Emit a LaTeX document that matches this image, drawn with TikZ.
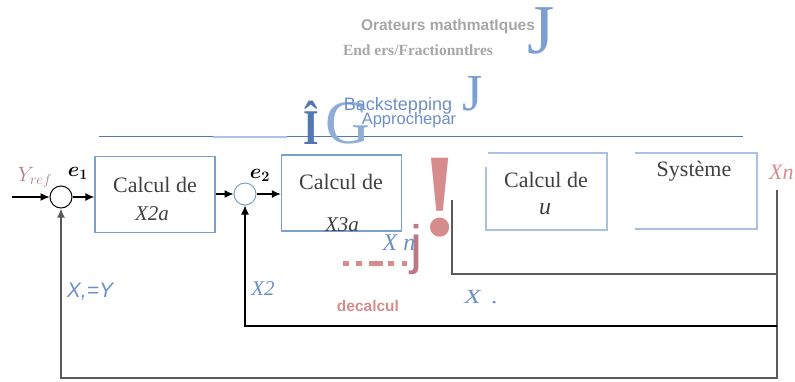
\documentclass[tikz,border=0pt]{standalone}
\usepackage{fontspec}
\setmainfont{Liberation Serif}
\setsansfont{Liberation Sans}
\setmonofont{Liberation Mono}
\usepackage{bm}
\usetikzlibrary{arrows.meta}
\definecolor{boxblue}{HTML}{7B9FD0}
\definecolor{paleblue}{HTML}{A9C1E3}
\definecolor{lblblue}{HTML}{6D8FC8}
\definecolor{deepblue}{HTML}{5278B0}
\definecolor{rosered}{HTML}{D68C8C}
\definecolor{mauve}{HTML}{B97A85}
\definecolor{inkgray}{HTML}{404040}
\definecolor{wiregray}{HTML}{5A5A5A}
\definecolor{titlegray}{HTML}{A6A6A6}
\tikzset{
  block/.style={draw=boxblue,line width=1.3pt,minimum width=120pt,minimum height=76pt,inner sep=0pt},
  paleblock/.style={minimum width=121pt,minimum height=77pt,inner sep=0pt},
  sumpt/.style={circle,draw,line width=1pt,minimum size=22pt,inner sep=0pt},
  blocktext/.style={inner sep=0pt,text=inkgray,font=\fontsize{22}{24}\selectfont},
  wire/.style={line width=1.2pt},
  thickwire/.style={line width=2.2pt,draw=wiregray},
}
\begin{document}
\begin{tikzpicture}[x=1pt,y=-1pt,>={Latex[length=9pt,width=8pt]}]
\useasboundingbox (0,0) rectangle (795,381);
% titre
\node[inner sep=0pt,text=titlegray,font=\sffamily\bfseries\fontsize{15.5}{16}\selectfont] (tit1) at (448,26) {Orateurs mathmatIques};
\node[inner sep=0pt,text=titlegray,font=\bfseries\fontsize{15.5}{16}\selectfont] (tit2) at (418,50) {End ers/Fractionntlres};
\node[inner sep=0pt,text=boxblue,font=\fontsize{70}{70}\selectfont] (bigj1) at (541,31) {J};
\node[inner sep=0pt,text=boxblue,font=\fontsize{52}{52}\selectfont] (bigj2) at (473,94) {J};
\draw[deepblue,line width=0.9pt] (99,136) -- (743,136);
\draw[paleblue,line width=2pt] (213,137) -- (287,137);
\node[inner sep=0pt,text=deepblue,font=\bfseries\fontsize{50}{50}\selectfont,xscale=0.8] (bigi) at (311,123) {Î};
\node[inner sep=0pt,text=boxblue!85,font=\fontsize{62}{62}\selectfont] (bigg) at (348,123) {G};
\node[inner sep=0pt,text=lblblue,font=\sffamily\fontsize{18}{18}\selectfont] (back) at (398,106) {Backstepping};
\node[inner sep=0pt,text=lblblue,font=\sffamily\fontsize{16.5}{17}\selectfont] (appro) at (409,120) {Approchepar};
% blocs
\node[block] (box1) at (155,194.5) {};
\node[blocktext] (t1a) at (155,185) {Calcul de};
\node[blocktext,font=\itshape\fontsize{21}{24}\selectfont] (t1b) at (152,214) {X2a};
\node[block] (box2) at (341.5,193) {};
\node[blocktext] (t2a) at (341,182) {Calcul de};
\node[blocktext,font=\itshape\fontsize{21}{24}\selectfont] (t2b) at (342,225) {X3a};
\node[paleblock] (box3) at (546.5,191.5) {};
\draw[paleblue,line width=2.4pt] (box3.north west) ++(2,0) -- (box3.north east) -- (box3.south east) -- (box3.south west) -- ++(0,-63);
\node[blocktext] (t3a) at (546,180) {Calcul de};
\node[blocktext,font=\itshape\fontsize{24}{24}\selectfont] (t3b) at (545,209) {u};
\node[paleblock,minimum width=122pt,minimum height=76pt] (box4) at (696,191) {};
\draw[paleblue,line width=2pt] (box4.north west) -- (box4.north east) -- (box4.south east) -- (box4.south west);
\node[blocktext] (t4) at (694,171) {Système};
% sommateurs
\node[sumpt] (sum1) at (61,197) {};
\node[sumpt,draw=boxblue] (sum2) at (245,194) {};
\node[inner sep=0pt,text=mauve,font=\fontsize{21}{21}\selectfont] (yref) at (35,177) {$Y_{ref}$};
\node[inner sep=0pt,font=\fontsize{20}{20}\selectfont] (e1) at (78,173) {$\bm{e_1}$};
\node[inner sep=0pt,font=\fontsize{20}{20}\selectfont] (e2) at (260,175) {$\bm{e_2}$};
\coordinate (in) at (12,197);
\draw[wire,->] (in) -- (sum1);
\draw[wire,->] (sum1.east) -- (sum1.east -| box1.west);
\draw[wire,->] (box1.east |- sum2) -- (sum2);
\draw[wire,->] (sum2.east) -- (sum2.east -| box2.west);
% retours
\coordinate (rtop) at (777,190);
\coordinate (r1) at (777,378);
\coordinate (r2) at (777,326);
\coordinate (r3) at (777,274);
\coordinate (cut) at (452,200);
\draw[thickwire,->] (rtop) -- (r1) -| (sum1.south);
\draw[wire,->] (r2) -| (sum2.south);
\draw[thickwire,line width=2.5pt] (r3) -| (cut);
\node[inner sep=0pt,text=rosered,font=\itshape\fontsize{22}{22}\selectfont,anchor=west] (xn) at (769,172) {Xn};
% marques
\node[inner sep=0pt,text=rosered,font=\bfseries\fontsize{118}{118}\selectfont,anchor=base] (excl) at (440,235) {!};
\node[inner sep=0pt,text=lblblue,font=\itshape\fontsize{24}{24}\selectfont] (xnq) at (399,243) {X n};
\draw[rosered,line width=5pt,dash pattern=on 6pt off 7pt on 6pt off 7pt on 14pt off 5pt on 6pt off 8pt on 6pt] (343,263) -- (407,263);
\node[inner sep=0pt,text=mauve,font=\sffamily\fontsize{54}{54}\selectfont] (jj) at (416,250) {j};
\node[inner sep=0pt,text=rosered,font=\sffamily\bfseries\fontsize{15.5}{16}\selectfont] (decal) at (368,306) {decalcul};
\node[inner sep=0pt,text=lblblue,font=\sffamily\itshape\fontsize{21}{22}\selectfont] (xy) at (90,292) {X,=Y};
\node[inner sep=0pt,text=lblblue,font=\itshape\fontsize{21}{22}\selectfont] (x2) at (263,289) {X2};
\node[inner sep=0pt,text=lblblue,font=\fontsize{20}{20}\selectfont,xscale=1.35] (xdot) at (481,297) {\textit{X}\,\,.};
\end{tikzpicture}
\end{document}
